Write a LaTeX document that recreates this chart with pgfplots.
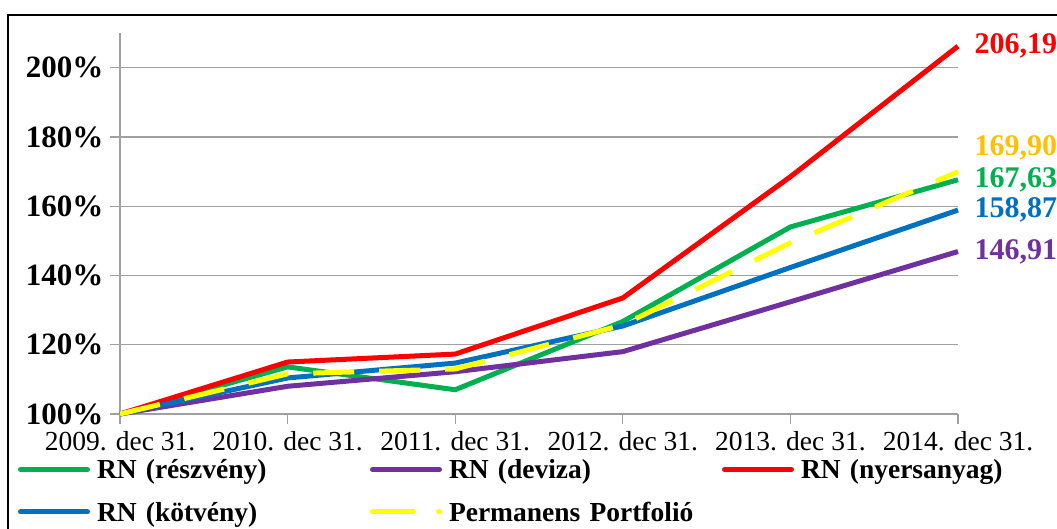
\documentclass[border=0pt]{standalone}
\usepackage{fontspec}
\setmainfont{Liberation Serif}
\usepackage{pgfplots}
\pgfplotsset{compat=1.18}
\definecolor{cgreen}{RGB}{0,176,80}
\definecolor{cpurple}{RGB}{112,48,160}
\definecolor{cred}{RGB}{255,0,0}
\definecolor{cblue}{RGB}{0,112,192}
\definecolor{cyellow}{RGB}{255,255,0}
\definecolor{corange}{RGB}{255,192,0}
\definecolor{cgrid}{RGB}{160,160,160}
\begin{document}
\begin{tikzpicture}
\path[use as bounding box] (-120pt,-115pt) rectangle (937pt,414pt);
\draw[black, line width=1.6pt] (-112pt,-200pt) rectangle (1000pt,399pt);
\begin{axis}[
  at={(0pt,0pt)}, anchor=south west,
  scale only axis, width=838pt, height=381pt,
  clip=false,
  xmin=0, xmax=5, ymin=100, ymax=210,
  xtick={0,1,2,3,4,5},
  xticklabels={2009. dec 31.,2010. dec 31.,2011. dec 31.,2012. dec 31.,2013. dec 31.,2014. dec 31.},
  ytick={100,120,140,160,180,200},
  yticklabels={100\%,120\%,140\%,160\%,180\%,200\%},
  axis x line*=bottom, axis y line*=left,
  axis line style={cgrid, line width=1.3pt, -},
  ymajorgrids, grid style={cgrid, line width=1.3pt},
  tick align=outside, major tick length=10pt,
  tick style={cgrid, line width=1.3pt},
  xticklabel style={font=\fontsize{27.5}{30}\selectfont, yshift=-4pt},
  yticklabel style={font=\fontsize{31}{33}\selectfont\bfseries, xshift=-3pt},
  legend columns=3,
  legend cell align=left,
  legend style={at={(-0.1217,-0.1181)}, anchor=north west, draw=none, fill=none,
    inner sep=0pt, outer sep=0pt, row sep=15.5pt, column sep=0pt,
    font=\fontsize{27.5}{29}\selectfont\bfseries,
    nodes={inner sep=0pt, text width=273pt, text height=20pt, text depth=7pt, align=left}},
  legend image code/.code={\draw[#1, line cap=round] (2.5pt,3pt) -- (69.5pt,3pt); \path[draw=none] (0pt,0pt) -- (79pt,0pt);},
  every axis plot/.append style={line width=5pt, line join=round},
]
\addplot[cgreen] coordinates {(0,100)(1,113.6)(2,107)(3,126.7)(4,154)(5,167.63)}
  node[pos=1, anchor=west, inner sep=0pt, xshift=14pt, font=\fontsize{30}{32}\selectfont\bfseries, text=cgreen] {167,63};
\addlegendentry{RN (részvény)}
\addplot[cpurple] coordinates {(0,100)(1,108)(2,112.2)(3,118)(4,132.4)(5,146.91)}
  node[pos=1, anchor=west, inner sep=0pt, xshift=14pt, font=\fontsize{30}{32}\selectfont\bfseries, text=cpurple] {146,91};
\addlegendentry{RN (deviza)}
\addplot[cred] coordinates {(0,100)(1,115)(2,117.3)(3,133.5)(4,168.5)(5,206.19)}
  node[pos=1, anchor=west, inner sep=0pt, xshift=14pt, font=\fontsize{30}{32}\selectfont\bfseries, text=cred] {206,19};
\addlegendentry{RN (nyersanyag)}
\addplot[cblue] coordinates {(0,100)(1,110.4)(2,114.7)(3,125.4)(4,142.3)(5,158.87)}
  node[pos=1, anchor=west, inner sep=0pt, xshift=14pt, font=\fontsize{30}{32}\selectfont\bfseries, text=cblue] {158,87};
\addlegendentry{RN (kötvény)}
\addplot[cyellow, dash pattern=on 41pt off 25pt] coordinates {(0,100)(1,111.6)(2,113)(3,125.7)(4,149.4)(5,169.90)}
  node[pos=1, anchor=west, inner sep=0pt, xshift=14pt, yshift=24pt, font=\fontsize{30}{32}\selectfont\bfseries, text=corange] {169,90};
\addlegendentry{Permanens Portfolió}
\end{axis}
\end{tikzpicture}
\end{document}
